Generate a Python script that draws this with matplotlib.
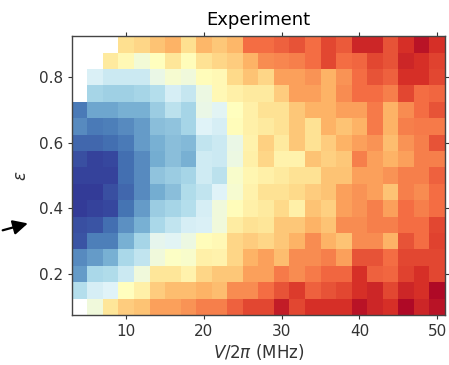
import numpy as np
import matplotlib
matplotlib.use("Agg")
import matplotlib.pyplot as plt
from matplotlib.patches import FancyArrowPatch

# drive frequency V/2pi (MHz), cell centres
v_mhz = np.arange(4, 51, 2)
# epsilon, cell centres
eps = np.round(np.arange(0.10, 0.91, 0.05), 2)

nan = np.nan
# measured signal (normalised 0..1), rows listed from eps = 0.9 down to 0.1
signal_top_down = [
    [nan, nan, nan, .60, .62, .66, .69, .60, .68, .65, .68, .80, .80, .82, .84, .80, .86, .83, .92, .92, .84, .90, .96, .90],
    [nan, nan, .57, .52, .46, .50, .58, .51, .59, .62, .64, .69, .75, .76, .77, .80, .86, .80, .81, .86, .84, .92, .90, .87],
    [nan, .39, .36, .36, .36, .43, .47, .45, .51, .52, .61, .66, .62, .72, .72, .74, .69, .74, .80, .84, .82, .90, .90, .86],
    [nan, .29, .28, .28, .29, .32, .38, .35, .44, .52, .55, .57, .57, .64, .72, .72, .69, .75, .80, .80, .77, .86, .80, .81],
    [.11, .19, .19, .21, .21, .27, .33, .29, .43, .41, .50, .55, .59, .59, .65, .69, .69, .72, .72, .78, .69, .75, .80, .84],
    [.14, .11, .12, .14, .17, .24, .25, .29, .40, .38, .51, .55, .57, .59, .65, .59, .69, .66, .69, .78, .69, .77, .78, .78],
    [.08, .08, .09, .11, .17, .21, .24, .23, .34, .36, .43, .54, .63, .57, .65, .59, .64, .69, .72, .74, .67, .74, .77, .84],
    [.04, .02, .03, .09, .14, .20, .24, .21, .37, .36, .44, .55, .62, .54, .54, .66, .63, .65, .77, .72, .69, .72, .77, .77],
    [.02, .02, .02, .09, .14, .25, .27, .29, .37, .33, .48, .53, .55, .57, .59, .59, .66, .66, .72, .72, .74, .77, .77, .82],
    [.01, .01, .04, .08, .14, .20, .24, .31, .34, .40, .47, .54, .59, .59, .61, .64, .66, .72, .74, .72, .66, .77, .75, .80],
    [.01, .02, .03, .10, .17, .27, .29, .32, .38, .45, .51, .55, .57, .61, .55, .66, .63, .72, .74, .77, .72, .80, .77, .80],
    [.04, .05, .09, .15, .21, .30, .34, .38, .39, .45, .56, .59, .58, .65, .65, .69, .66, .75, .75, .77, .77, .80, .80, .86],
    [.05, .12, .12, .21, .29, .42, .41, .44, .51, .52, .62, .64, .62, .65, .69, .75, .69, .66, .75, .75, .69, .84, .80, .87],
    [.14, .17, .21, .30, .34, .45, .49, .48, .55, .54, .62, .69, .72, .67, .75, .75, .77, .72, .84, .84, .80, .86, .86, .86],
    [.17, .30, .31, .36, .45, .58, .58, .54, .62, .65, .65, .72, .72, .78, .75, .78, .81, .81, .90, .82, .81, .87, .90, .86],
    [.32, .38, .40, .50, .55, .64, .67, .67, .69, .67, .75, .75, .80, .84, .88, .82, .84, .86, .90, .92, .86, .92, .90, .98],
    [nan, .45, .58, .64, .66, .72, .72, .74, .77, .77, .82, .86, .86, .94, .86, .90, .90, .90, .96, .92, .90, .98, .92, .96],
]
signal = np.array(signal_top_down[::-1])

x_edges = np.append(v_mhz - 1, v_mhz[-1] + 1)
y_edges = np.append(eps - 0.025, eps[-1] + 0.025)

fig = plt.figure(figsize=(4.49, 3.65), dpi=100)
ax = fig.add_axes([0.160, 0.137, 0.831, 0.764])

ax.pcolormesh(x_edges, y_edges, np.ma.masked_invalid(signal),
              cmap="RdYlBu_r", vmin=0, vmax=1)

ax.set_xlim(3, 51)
ax.set_ylim(0.075, 0.925)
ax.set_xticks([10, 20, 30, 40, 50])
ax.set_yticks([0.2, 0.4, 0.6, 0.8])
ax.tick_params(direction="out", length=3, width=0.8, labelsize=11,
               top=True, right=True, colors="#333333", labelcolor="#333333")
for s in ax.spines.values():
    s.set_color("#444444")
    s.set_linewidth(1.0)

ax.set_title("Experiment", fontsize=13, pad=8)
ax.set_xlabel(r"$V/2\pi$ (MHz)", fontsize=12, labelpad=2, color="#333333")
ax.set_ylabel(r"$\varepsilon$", fontsize=12, labelpad=6, color="#333333")

# pointer arrow on the left margin
fig.add_artist(FancyArrowPatch(
    (0.0, 0.367), (0.068, 0.390), transform=fig.transFigure,
    arrowstyle="-|>", mutation_scale=22, color="black", lw=1.6))

fig.savefig("out.png", dpi=100)
